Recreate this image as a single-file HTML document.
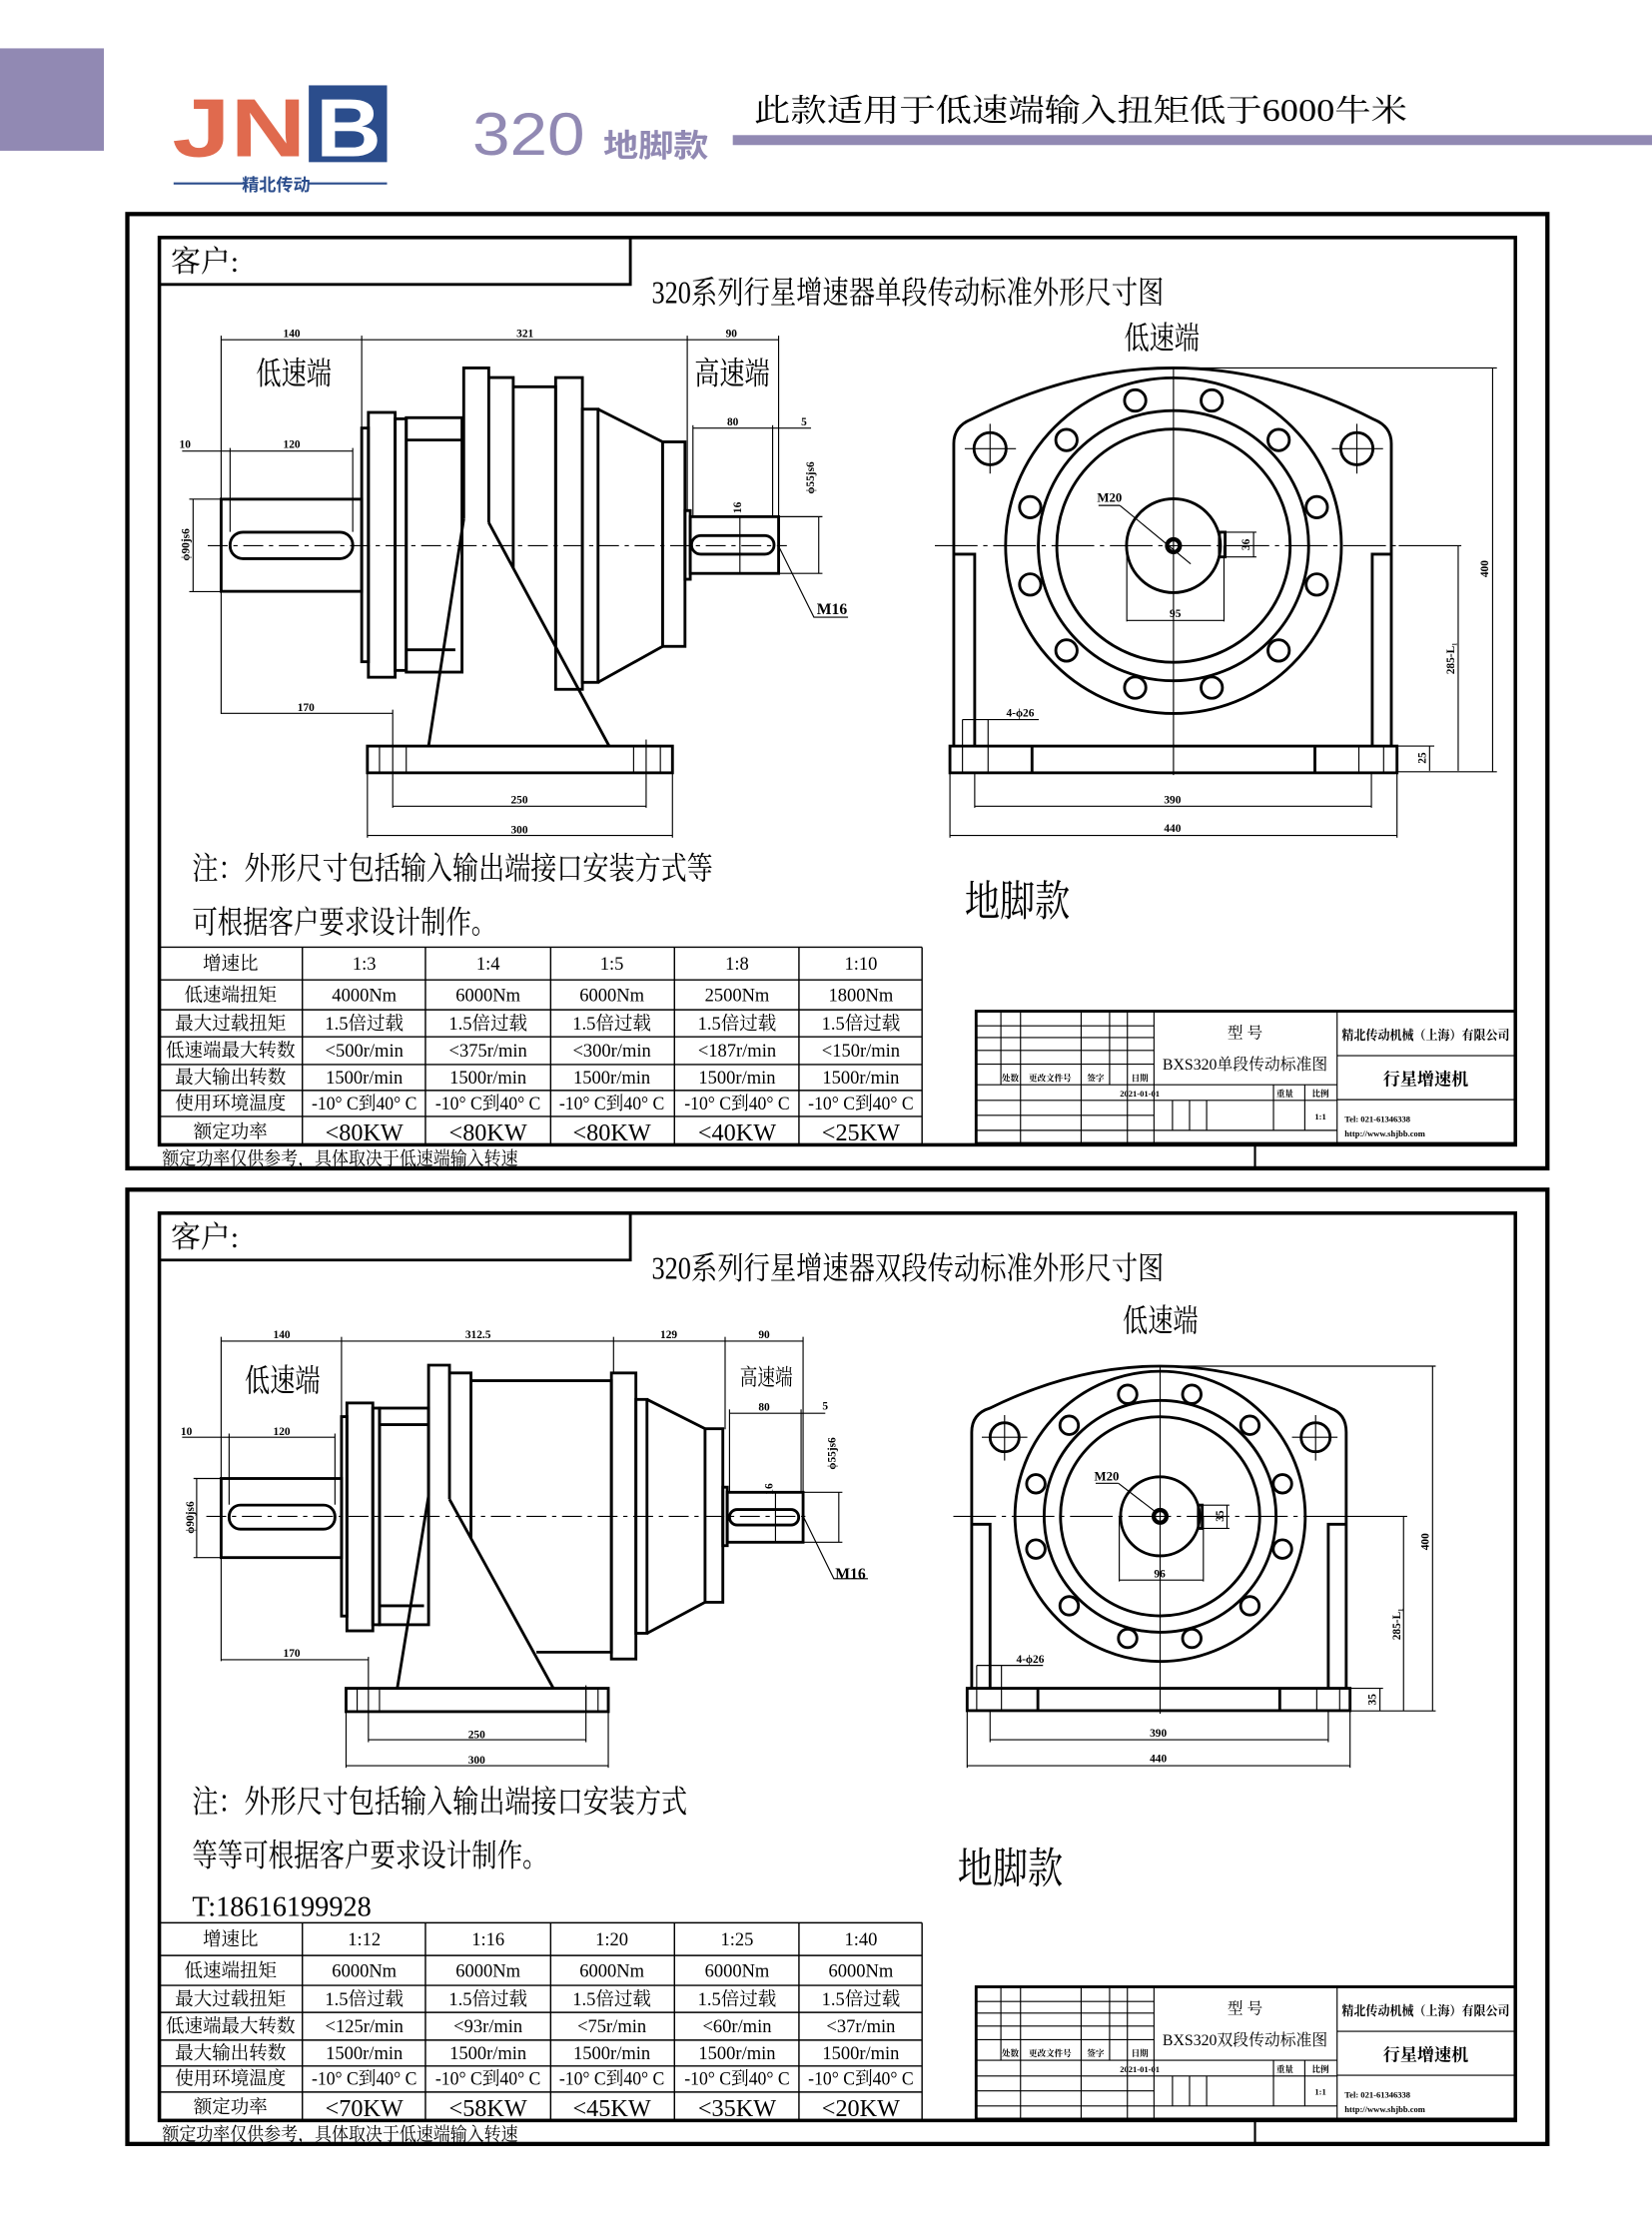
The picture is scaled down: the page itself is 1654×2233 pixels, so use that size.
<!DOCTYPE html>
<html><head><meta charset="utf-8"><style>
html,body{margin:0;padding:0;background:#fff;}
svg{display:block;}
text{font-family:"Liberation Serif","Noto Serif CJK SC","Noto Sans CJK SC",serif;fill:#000;}
.s{font-family:"Liberation Sans","Noto Sans CJK SC",sans-serif;}
.d{font-size:8px;font-weight:bold;}
.t{font-size:13px;}
.b{font-size:17px;}
</style></head><body>
<svg width="1654" height="2233" viewBox="0 0 1161 1568" preserveAspectRatio="none" xmlns="http://www.w3.org/2000/svg">
<rect width="1161" height="1568" fill="#fff"/>
<!-- header -->
<rect x="0" y="34" width="73" height="72" fill="#9189b3"/>
<text x="121" y="110" class="s" style="font-size:58px;font-weight:bold;fill:#e06a4e" textLength="94" lengthAdjust="spacingAndGlyphs">JN</text>
<rect x="217" y="60" width="55" height="54" fill="#2b4d8c"/>
<text x="222" y="110" class="s" style="font-size:58px;font-weight:bold;fill:#fff" textLength="46" lengthAdjust="spacingAndGlyphs">B</text>
<line x1="122" y1="129" x2="172" y2="129" stroke="#2b4d8c" stroke-width="1.5"/>
<line x1="217" y1="129" x2="272" y2="129" stroke="#2b4d8c" stroke-width="1.5"/>
<text x="194" y="134" class="s" text-anchor="middle" style="font-size:12px;font-weight:bold;fill:#2b4d8c">精北传动</text>
<text x="332" y="109" class="s" style="font-size:42px;fill:#9189b3" textLength="79" lengthAdjust="spacingAndGlyphs">320</text>
<text x="424" y="110" class="s" style="font-size:22px;font-weight:bold;fill:#9189b3" textLength="74" lengthAdjust="spacingAndGlyphs">地脚款</text>
<text x="530" y="85" style="font-size:22px" textLength="459" lengthAdjust="spacingAndGlyphs">此款适用于低速端输入扭矩低于6000牛米</text>
<rect x="515" y="95" width="646" height="7" fill="#9189b3"/>

<!-- frames, tables, title blocks -->
<g id="frame">
<rect x="89.5" y="150.5" width="998" height="671" fill="none" stroke="#000" stroke-width="3"/>
<rect x="112" y="167" width="953" height="638" fill="none" stroke="#000" stroke-width="2.5"/>
<line x1="882" y1="805" x2="882" y2="821" stroke="#000" stroke-width="1.5"/>
<polyline points="112,200 443,200 443,167" fill="none" stroke="#000" stroke-width="2"/>
<text x="120" y="191" style="font-size:21px">客户:</text>
<!-- table grid -->
<g stroke="#000" stroke-width="1" fill="none">
<line x1="112" y1="666" x2="648" y2="666"/><line x1="112" y1="689" x2="648" y2="689"/>
<line x1="112" y1="710" x2="648" y2="710"/><line x1="112" y1="729" x2="648" y2="729"/>
<line x1="112" y1="748.5" x2="648" y2="748.5"/><line x1="112" y1="766.7" x2="648" y2="766.7"/>
<line x1="112" y1="785" x2="648" y2="785"/>
<line x1="212.5" y1="666" x2="212.5" y2="805"/><line x1="299" y1="666" x2="299" y2="805"/>
<line x1="387" y1="666" x2="387" y2="805"/><line x1="474" y1="666" x2="474" y2="805"/>
<line x1="561.5" y1="666" x2="561.5" y2="805"/><line x1="648" y1="666" x2="648" y2="805"/>
</g>
<!-- title block -->
<g stroke="#000" fill="none">
<rect x="686" y="711" width="379" height="93" stroke-width="2"/>
<g stroke-width="0.8">
<line x1="703.4" y1="711" x2="703.4" y2="762.7"/><line x1="717.2" y1="711" x2="717.2" y2="804"/>
<line x1="759.8" y1="711" x2="759.8" y2="804"/><line x1="779.8" y1="711" x2="779.8" y2="762.7"/>
<line x1="792.3" y1="711" x2="792.3" y2="804"/><line x1="811" y1="711" x2="811" y2="804"/>
<line x1="939.7" y1="711" x2="939.7" y2="804"/>
<line x1="686" y1="721.3" x2="811" y2="721.3"/><line x1="686" y1="729.5" x2="811" y2="729.5"/>
<line x1="686" y1="738.6" x2="811" y2="738.6"/><line x1="686" y1="748.2" x2="811" y2="748.2"/>
<line x1="686" y1="762.7" x2="939.7" y2="762.7"/><line x1="686" y1="773.7" x2="939.7" y2="773.7"/>
<line x1="686" y1="784.2" x2="811" y2="784.2"/><line x1="686" y1="794.8" x2="939.7" y2="794.8"/>
<line x1="824" y1="773.7" x2="824" y2="794.8"/><line x1="836" y1="773.7" x2="836" y2="794.8"/>
<line x1="848" y1="773.7" x2="848" y2="794.8"/><line x1="895" y1="762.7" x2="895" y2="794.8"/>
<line x1="917" y1="762.7" x2="917" y2="794.8"/>
<line x1="939.7" y1="742.3" x2="1065" y2="742.3"/><line x1="939.7" y1="773.2" x2="1065" y2="773.2"/>
</g></g>
</g>
<use href="#frame" transform="translate(0,686)"/>

<!-- ===== PANEL 1 TEXT ===== -->
<text x="458" y="213" style="font-size:22px" textLength="360" lengthAdjust="spacingAndGlyphs">320系列行星增速器单段传动标准外形尺寸图</text>
<text x="135" y="618" style="font-size:22px" textLength="366" lengthAdjust="spacingAndGlyphs">注：外形尺寸包括输入输出端接口安装方式等</text>
<text x="135" y="656" style="font-size:22px" textLength="214" lengthAdjust="spacingAndGlyphs">可根据客户要求设计制作。</text>
<text x="678" y="644" style="font-size:30px" textLength="74" lengthAdjust="spacingAndGlyphs">地脚款</text>
<text x="114" y="819" style="font-size:13px" textLength="250" lengthAdjust="spacingAndGlyphs">额定功率仅供参考，具体取决于低速端输入转速</text>
<g class="t" text-anchor="middle">
<text x="162" y="682">增速比</text><text x="256" y="682">1:3</text><text x="343" y="682">1:4</text><text x="430" y="682">1:5</text><text x="518" y="682">1:8</text><text x="605" y="682">1:10</text>
<text x="162" y="704">低速端扭矩</text><text x="256" y="704">4000Nm</text><text x="343" y="704">6000Nm</text><text x="430" y="704">6000Nm</text><text x="518" y="704">2500Nm</text><text x="605" y="704">1800Nm</text>
<text x="162" y="724">最大过载扭矩</text><text x="256" y="724">1.5倍过载</text><text x="343" y="724">1.5倍过载</text><text x="430" y="724">1.5倍过载</text><text x="518" y="724">1.5倍过载</text><text x="605" y="724">1.5倍过载</text>
<text x="162" y="743">低速端最大转数</text><text x="256" y="743">&lt;500r/min</text><text x="343" y="743">&lt;375r/min</text><text x="430" y="743">&lt;300r/min</text><text x="518" y="743">&lt;187r/min</text><text x="605" y="743">&lt;150r/min</text>
<text x="162" y="762">最大输出转数</text><text x="256" y="762">1500r/min</text><text x="343" y="762">1500r/min</text><text x="430" y="762">1500r/min</text><text x="518" y="762">1500r/min</text><text x="605" y="762">1500r/min</text>
<text x="162" y="780">使用环境温度</text><text x="256" y="780" textLength="74" lengthAdjust="spacingAndGlyphs">-10° C到40° C</text><text x="343" y="780" textLength="74" lengthAdjust="spacingAndGlyphs">-10° C到40° C</text><text x="430" y="780" textLength="74" lengthAdjust="spacingAndGlyphs">-10° C到40° C</text><text x="518" y="780" textLength="74" lengthAdjust="spacingAndGlyphs">-10° C到40° C</text><text x="605" y="780" textLength="74" lengthAdjust="spacingAndGlyphs">-10° C到40° C</text>
<text x="162" y="800">额定功率</text>
<text x="256" y="802" class="b">&lt;80KW</text><text x="343" y="802" class="b">&lt;80KW</text><text x="430" y="802" class="b">&lt;80KW</text><text x="518" y="802" class="b">&lt;40KW</text><text x="605" y="802" class="b">&lt;25KW</text>
</g>
<g style="font-size:6px;font-weight:bold" text-anchor="middle">
<text x="710" y="760">处数</text><text x="738" y="760">更改文件号</text><text x="770" y="760">签字</text><text x="801" y="760">日期</text>
<text x="801" y="771">2021-01-01</text><text x="903" y="771">重量</text><text x="928" y="771">比例</text><text x="928" y="787">1:1</text>
</g>
<text x="875" y="730" text-anchor="middle" style="font-size:11px">型 号</text>
<text x="875" y="752" text-anchor="middle" style="font-size:11px" textLength="116" lengthAdjust="spacingAndGlyphs">BXS320单段传动标准图</text>
<text x="1002" y="731" text-anchor="middle" style="font-size:9px;font-weight:bold" textLength="118" lengthAdjust="spacingAndGlyphs">精北传动机械（上海）有限公司</text>
<text x="1002" y="763" text-anchor="middle" style="font-size:12px;font-weight:bold">行星增速机</text>
<text x="945" y="789" style="font-size:6px;font-weight:bold">Tel: 021-61346338</text>
<text x="945" y="799" style="font-size:6px;font-weight:bold">http://www.shjbb.com</text>

<!-- ===== PANEL 2 TEXT ===== -->
<text x="458" y="899" style="font-size:22px" textLength="360" lengthAdjust="spacingAndGlyphs">320系列行星增速器双段传动标准外形尺寸图</text>
<text x="135" y="1274" style="font-size:22px" textLength="348" lengthAdjust="spacingAndGlyphs">注：外形尺寸包括输入输出端接口安装方式</text>
<text x="135" y="1312" style="font-size:22px" textLength="250" lengthAdjust="spacingAndGlyphs">等等可根据客户要求设计制作。</text>
<text x="135" y="1347" style="font-size:20px" textLength="126" lengthAdjust="spacingAndGlyphs">T:18616199928</text>
<text x="673" y="1324" style="font-size:30px" textLength="74" lengthAdjust="spacingAndGlyphs">地脚款</text>
<text x="114" y="1505" style="font-size:13px" textLength="250" lengthAdjust="spacingAndGlyphs">额定功率仅供参考，具体取决于低速端输入转速</text>
<g class="t" text-anchor="middle">
<text x="162" y="1368">增速比</text><text x="256" y="1368">1:12</text><text x="343" y="1368">1:16</text><text x="430" y="1368">1:20</text><text x="518" y="1368">1:25</text><text x="605" y="1368">1:40</text>
<text x="162" y="1390">低速端扭矩</text><text x="256" y="1390">6000Nm</text><text x="343" y="1390">6000Nm</text><text x="430" y="1390">6000Nm</text><text x="518" y="1390">6000Nm</text><text x="605" y="1390">6000Nm</text>
<text x="162" y="1410">最大过载扭矩</text><text x="256" y="1410">1.5倍过载</text><text x="343" y="1410">1.5倍过载</text><text x="430" y="1410">1.5倍过载</text><text x="518" y="1410">1.5倍过载</text><text x="605" y="1410">1.5倍过载</text>
<text x="162" y="1429">低速端最大转数</text><text x="256" y="1429">&lt;125r/min</text><text x="343" y="1429">&lt;93r/min</text><text x="430" y="1429">&lt;75r/min</text><text x="518" y="1429">&lt;60r/min</text><text x="605" y="1429">&lt;37r/min</text>
<text x="162" y="1448">最大输出转数</text><text x="256" y="1448">1500r/min</text><text x="343" y="1448">1500r/min</text><text x="430" y="1448">1500r/min</text><text x="518" y="1448">1500r/min</text><text x="605" y="1448">1500r/min</text>
<text x="162" y="1466">使用环境温度</text><text x="256" y="1466" textLength="74" lengthAdjust="spacingAndGlyphs">-10° C到40° C</text><text x="343" y="1466" textLength="74" lengthAdjust="spacingAndGlyphs">-10° C到40° C</text><text x="430" y="1466" textLength="74" lengthAdjust="spacingAndGlyphs">-10° C到40° C</text><text x="518" y="1466" textLength="74" lengthAdjust="spacingAndGlyphs">-10° C到40° C</text><text x="605" y="1466" textLength="74" lengthAdjust="spacingAndGlyphs">-10° C到40° C</text>
<text x="162" y="1486">额定功率</text>
<text x="256" y="1488" class="b">&lt;70KW</text><text x="343" y="1488" class="b">&lt;58KW</text><text x="430" y="1488" class="b">&lt;45KW</text><text x="518" y="1488" class="b">&lt;35KW</text><text x="605" y="1488" class="b">&lt;20KW</text>
</g>
<g style="font-size:6px;font-weight:bold" text-anchor="middle">
<text x="710" y="1446">处数</text><text x="738" y="1446">更改文件号</text><text x="770" y="1446">签字</text><text x="801" y="1446">日期</text>
<text x="801" y="1457">2021-01-01</text><text x="903" y="1457">重量</text><text x="928" y="1457">比例</text><text x="928" y="1473">1:1</text>
</g>
<text x="875" y="1416" text-anchor="middle" style="font-size:11px">型 号</text>
<text x="875" y="1438" text-anchor="middle" style="font-size:11px" textLength="116" lengthAdjust="spacingAndGlyphs">BXS320双段传动标准图</text>
<text x="1002" y="1417" text-anchor="middle" style="font-size:9px;font-weight:bold" textLength="118" lengthAdjust="spacingAndGlyphs">精北传动机械（上海）有限公司</text>
<text x="1002" y="1449" text-anchor="middle" style="font-size:12px;font-weight:bold">行星增速机</text>
<text x="945" y="1475" style="font-size:6px;font-weight:bold">Tel: 021-61346338</text>
<text x="945" y="1485" style="font-size:6px;font-weight:bold">http://www.shjbb.com</text>

<!-- ===== PANEL 1 SIDE VIEW ===== -->
<g stroke="#000" stroke-width="2" fill="none">
<rect x="155.4" y="351" width="98.8" height="64.8"/>
<rect x="161.7" y="374.2" width="86.2" height="18.6" rx="9"/>
<rect x="254.2" y="301" width="4.7" height="164.3"/>
<rect x="258.9" y="290" width="18.8" height="186.2"/>
<rect x="277.7" y="294.5" width="7.8" height="176.9"/>
<rect x="285.5" y="293.7" width="39.2" height="178.9"/>
<line x1="285.5" y1="309.4" x2="324.7" y2="309.4"/><line x1="285.5" y1="456.9" x2="320" y2="456.9"/>
<path d="M325.9,365 V258.7 H343.5 V367.5"/>
<line x1="325.9" y1="365" x2="301.2" y2="524.6"/><line x1="343.5" y1="367.5" x2="428.1" y2="524.6"/>
<path d="M343.5,265.5 H360.7 V399.4"/>
<path d="M360.7,272 H390.5 V454.8"/>
<rect x="390.5" y="265.5" width="18.8" height="219.2"/>
<rect x="409.3" y="287.7" width="11" height="192.1"/>
<line x1="420.3" y1="287.7" x2="465.7" y2="310.7"/><line x1="420.3" y1="479.8" x2="465.7" y2="454.5"/>
<rect x="465.7" y="310.7" width="15.7" height="143.8"/>
<rect x="481.4" y="359" width="3.7" height="48.3"/>
<rect x="485.1" y="363.3" width="62.1" height="39.9"/>
<rect x="486" y="376.6" width="58" height="13.1" rx="6.5"/>
<rect x="258.2" y="524.6" width="214.4" height="18.8"/>
</g>
<g stroke="#000" stroke-width="0.8" fill="none">
<line x1="266.7" y1="524.6" x2="266.7" y2="543.4"/><line x1="285.5" y1="524.6" x2="285.5" y2="543.4"/>
<line x1="445.3" y1="524.6" x2="445.3" y2="543.4"/><line x1="464.1" y1="524.6" x2="464.1" y2="543.4"/>
<line x1="146" y1="383.7" x2="553" y2="383.7" stroke-dasharray="14,4,3,4"/>
<line x1="155.4" y1="238.9" x2="547.2" y2="238.9"/>
<line x1="155.4" y1="236" x2="155.4" y2="351"/><line x1="254.2" y1="236" x2="254.2" y2="301"/>
<line x1="483" y1="236" x2="483" y2="360"/><line x1="547.2" y1="236" x2="547.2" y2="363"/>
<line x1="128" y1="317.2" x2="247.9" y2="317.2"/><line x1="161.7" y1="315" x2="161.7" y2="374"/><line x1="247.9" y1="315" x2="247.9" y2="374"/>
<line x1="135.7" y1="351" x2="135.7" y2="416"/><line x1="133" y1="351" x2="155" y2="351"/><line x1="133" y1="416" x2="155" y2="416"/>
<line x1="487" y1="301" x2="570" y2="301"/><line x1="487" y1="299" x2="487" y2="363"/><line x1="543" y1="299" x2="543" y2="363"/>
<line x1="575.4" y1="363.3" x2="575.4" y2="403.2"/><line x1="547" y1="363.3" x2="578" y2="363.3"/><line x1="547" y1="403.2" x2="578" y2="403.2"/>
<line x1="520" y1="363" x2="520" y2="403"/>
<polyline points="547.2,384 572,434 596,434"/>
<line x1="155.4" y1="416" x2="155.4" y2="502"/><line x1="155.4" y1="501.6" x2="276" y2="501.6"/><line x1="276" y1="499" x2="276" y2="568"/>
<line x1="276" y1="566.9" x2="454.1" y2="566.9"/><line x1="454.1" y1="520" x2="454.1" y2="568"/>
<line x1="258.2" y1="543" x2="258.2" y2="589"/><line x1="472.6" y1="543" x2="472.6" y2="589"/>
<line x1="258.2" y1="587.4" x2="472.6" y2="587.4"/>
</g>
<g class="d" text-anchor="middle">
<text x="205" y="237">140</text><text x="369" y="237">321</text><text x="514" y="237">90</text>
<text x="130" y="315">10</text><text x="205" y="315">120</text><text x="515" y="299">80</text><text x="565" y="299">5</text>
<text x="215" y="500">170</text><text x="365" y="565">250</text><text x="365" y="586">300</text>
<text transform="translate(133,383) rotate(-90)">ϕ90js6</text>
<text transform="translate(572,336) rotate(-90)">ϕ55js6</text>
<text transform="translate(521,357) rotate(-90)">16</text>
</g>
<text x="574" y="432" style="font-size:11px;font-weight:bold">M16</text>
<text x="180" y="270" style="font-size:22px" textLength="53" lengthAdjust="spacingAndGlyphs">低速端</text>
<text x="488" y="270" style="font-size:22px" textLength="53" lengthAdjust="spacingAndGlyphs">高速端</text>

<!-- ===== PANEL 1 END VIEW ===== -->
<text x="790" y="245" style="font-size:22px" textLength="53" lengthAdjust="spacingAndGlyphs">低速端</text>
<g stroke="#000" stroke-width="2" fill="none">
<path d="M670.3,524.6 V311.9 Q670.3,300 682.3,295 Q824.7,222.4 965.7,295 Q977.8,300 977.8,311.9 V524.6"/>
<path d="M670.3,389.7 H685 V524.6 M977.8,389.7 H964.4 V524.6"/>
<circle cx="824.7" cy="383.7" r="118"/><circle cx="824.7" cy="383.7" r="95"/>
<circle cx="824.7" cy="383.7" r="82"/><circle cx="824.7" cy="383.7" r="33"/>
<circle cx="824.7" cy="383.7" r="4.5" stroke-width="3"/>
<rect x="857" y="374.2" width="4" height="17.4"/>
<circle cx="797.8" cy="281.6" r="7.5"/><circle cx="851.6" cy="281.6" r="7.5"/>
<circle cx="749.5" cy="309.4" r="7.5"/><circle cx="898.6" cy="309.4" r="7.5"/>
<circle cx="724" cy="356.6" r="7.5"/><circle cx="925.4" cy="356.6" r="7.5"/>
<circle cx="724" cy="411" r="7.5"/><circle cx="925.4" cy="411" r="7.5"/>
<circle cx="749.5" cy="457.4" r="7.5"/><circle cx="898.6" cy="457.4" r="7.5"/>
<circle cx="797.8" cy="483.5" r="7.5"/><circle cx="851.6" cy="483.5" r="7.5"/>
<circle cx="695.8" cy="315.5" r="11.3"/><circle cx="953.6" cy="315.5" r="11.3"/>
<rect x="667.6" y="524.6" width="314.2" height="18.8"/>
<line x1="725.3" y1="524.6" x2="725.3" y2="543.4"/><line x1="924.1" y1="524.6" x2="924.1" y2="543.4"/>
</g>
<g stroke="#000" stroke-width="0.8" fill="none">
<line x1="678" y1="315.5" x2="714" y2="315.5"/><line x1="695.8" y1="298" x2="695.8" y2="333"/>
<line x1="936" y1="315.5" x2="972" y2="315.5"/><line x1="953.6" y1="298" x2="953.6" y2="333"/>
<line x1="657" y1="383.7" x2="983" y2="383.7" stroke-dasharray="30,4,3,4"/>
<line x1="824.7" y1="258" x2="824.7" y2="545"/>
<line x1="676.4" y1="506" x2="676.4" y2="543.4"/><line x1="694.4" y1="506" x2="694.4" y2="543.4"/>
<line x1="955" y1="524.6" x2="955" y2="543.4"/><line x1="972.4" y1="524.6" x2="972.4" y2="543.4"/>
<line x1="676.4" y1="506" x2="730" y2="506"/>
<line x1="685" y1="543" x2="685" y2="568"/><line x1="963.8" y1="543" x2="963.8" y2="568"/>
<line x1="685" y1="566.9" x2="963.8" y2="566.9"/>
<line x1="667.6" y1="543" x2="667.6" y2="589"/><line x1="981.8" y1="543" x2="981.8" y2="589"/>
<line x1="667.6" y1="587.4" x2="981.8" y2="587.4"/>
<line x1="824.7" y1="258.7" x2="1052" y2="258.7"/><line x1="982" y1="542.7" x2="1052" y2="542.7"/>
<line x1="1049" y1="258.7" x2="1049" y2="542.7"/>
<line x1="983" y1="383.7" x2="1027" y2="383.7"/><line x1="1024.8" y1="383.7" x2="1024.8" y2="542"/>
<line x1="982" y1="524.6" x2="1008" y2="524.6"/><line x1="1004.7" y1="524.6" x2="1004.7" y2="542"/>
<line x1="791.9" y1="383.7" x2="791.9" y2="437"/><line x1="860.2" y1="383.7" x2="860.2" y2="437"/>
<line x1="791.9" y1="436.3" x2="860.2" y2="436.3"/>
<line x1="861" y1="374.2" x2="883" y2="374.2"/><line x1="861" y1="391.6" x2="883" y2="391.6"/><line x1="881" y1="374.2" x2="881" y2="391.6"/>
<line x1="787" y1="355.4" x2="836.8" y2="396.5"/><line x1="772" y1="355.4" x2="787" y2="355.4"/>
</g>
<g class="d" text-anchor="middle">
<text x="824" y="565">390</text><text x="824" y="585">440</text><text x="826" y="434">95</text>
<text x="717" y="504">4-ϕ26</text>
<text transform="translate(1046,400) rotate(-90)">400</text>
<text transform="translate(1022,463) rotate(-90)">285-L₁</text>
<text transform="translate(1002,533) rotate(-90)">25</text>
<text transform="translate(878,383) rotate(-90)">36</text>
</g>
<text x="771" y="353" style="font-size:9px;font-weight:bold">M20</text>

<!-- ===== PANEL 2 SIDE VIEW ===== -->
<g stroke="#000" stroke-width="2" fill="none">
<rect x="155.4" y="1039.6" width="84.6" height="55.6"/>
<rect x="161" y="1058.3" width="74.4" height="16.9" rx="8"/>
<rect x="240" y="996.1" width="3.8" height="140.2"/>
<rect x="243.8" y="986.5" width="18.2" height="160.2"/>
<rect x="262" y="990.1" width="4.7" height="152.3"/>
<rect x="266.7" y="990.1" width="34.5" height="152.3"/>
<line x1="266.7" y1="1001.7" x2="301.2" y2="1001.7"/><line x1="266.7" y1="1129.1" x2="298" y2="1129.1"/>
<path d="M301.2,1051.7 V959.9 H315.9 V1054.2"/>
<line x1="301.2" y1="1051.7" x2="279.2" y2="1187.1"/><line x1="315.9" y1="1054.2" x2="388.9" y2="1187.1"/>
<path d="M315.9,965.4 H331 V1081.7"/>
<path d="M331,970.8 H429.7 V1161.7 H377"/>
<rect x="429.7" y="965.4" width="17.2" height="201.1"/>
<rect x="446.9" y="984" width="7.8" height="164.4"/>
<line x1="454.7" y1="984" x2="495.5" y2="1004.6"/><line x1="454.7" y1="1148.4" x2="495.5" y2="1126.6"/>
<rect x="495.5" y="1004.6" width="12.5" height="122"/>
<rect x="508" y="1045.7" width="3.1" height="41.1"/>
<rect x="511.1" y="1049.3" width="53.3" height="35.1"/>
<rect x="512.7" y="1061.4" width="48.6" height="10.9" rx="5.4"/>
<rect x="243.2" y="1187.1" width="184.3" height="16.4"/>
</g>
<g stroke="#000" stroke-width="0.8" fill="none">
<line x1="251" y1="1187.1" x2="251" y2="1203.5"/><line x1="266.7" y1="1187.1" x2="266.7" y2="1203.5"/>
<line x1="411.8" y1="1187.1" x2="411.8" y2="1203.5"/><line x1="420.3" y1="1187.1" x2="420.3" y2="1203.5"/>
<line x1="145" y1="1066.2" x2="570" y2="1066.2" stroke-dasharray="14,4,3,4"/>
<line x1="155.4" y1="943" x2="564.4" y2="943"/>
<line x1="155.4" y1="940" x2="155.4" y2="1040"/><line x1="240" y1="940" x2="240" y2="996"/>
<line x1="431.2" y1="940" x2="431.2" y2="965"/><line x1="509.6" y1="940" x2="509.6" y2="1005"/>
<line x1="564.4" y1="940" x2="564.4" y2="1049"/>
<line x1="128" y1="1010.6" x2="235.4" y2="1010.6"/><line x1="161" y1="1008" x2="161" y2="1058"/><line x1="235.4" y1="1008" x2="235.4" y2="1058"/>
<line x1="138.2" y1="1039.6" x2="138.2" y2="1095.2"/><line x1="136" y1="1039.6" x2="155" y2="1039.6"/><line x1="136" y1="1095.2" x2="155" y2="1095.2"/>
<line x1="512.7" y1="993.7" x2="580" y2="993.7"/><line x1="512.7" y1="991" x2="512.7" y2="1049"/><line x1="563" y1="991" x2="563" y2="1049"/>
<line x1="589.5" y1="1049.3" x2="589.5" y2="1084.4"/><line x1="564" y1="1049.3" x2="592" y2="1049.3"/><line x1="564" y1="1084.4" x2="592" y2="1084.4"/>
<line x1="545" y1="1049" x2="545" y2="1084"/>
<polyline points="564.4,1066 586,1110 610,1110"/>
<line x1="155.4" y1="1095" x2="155.4" y2="1168"/><line x1="155.4" y1="1167" x2="258.9" y2="1167"/><line x1="258.9" y1="1165" x2="258.9" y2="1225"/>
<line x1="258.9" y1="1223.3" x2="411.8" y2="1223.3"/><line x1="411.8" y1="1185" x2="411.8" y2="1225"/>
<line x1="243.2" y1="1203" x2="243.2" y2="1243"/><line x1="427.5" y1="1203" x2="427.5" y2="1243"/>
<line x1="243.2" y1="1241.5" x2="427.5" y2="1241.5"/>
</g>
<g class="d" text-anchor="middle">
<text x="198" y="941">140</text><text x="336" y="941">312.5</text><text x="470" y="941">129</text><text x="537" y="941">90</text>
<text x="131" y="1009">10</text><text x="198" y="1009">120</text><text x="537" y="992">80</text><text x="580" y="991">5</text>
<text x="205" y="1165">170</text><text x="335" y="1222">250</text><text x="335" y="1240">300</text>
<text transform="translate(136,1067) rotate(-90)">ϕ90js6</text>
<text transform="translate(587,1022) rotate(-90)">ϕ55js6</text>
<text transform="translate(543,1047) rotate(-90)">16</text>
</g>
<text x="587" y="1110" style="font-size:11px;font-weight:bold">M16</text>
<text x="172" y="978" style="font-size:22px" textLength="53" lengthAdjust="spacingAndGlyphs">低速端</text>
<text x="520" y="974" style="font-size:16px" textLength="37" lengthAdjust="spacingAndGlyphs">高速端</text>

<!-- ===== PANEL 2 END VIEW ===== -->
<text x="789" y="936" style="font-size:22px" textLength="53" lengthAdjust="spacingAndGlyphs">低速端</text>
<g stroke="#000" stroke-width="2" fill="none">
<path d="M682.9,1187.1 V1007 Q682.9,994 695.8,990.1 Q815.3,931.1 934.8,990.1 Q946.1,994 946.1,1007 V1187.1"/>
<path d="M682.9,1071.8 H695.8 V1187.1 M946.1,1071.8 H933.5 V1187.1"/>
<circle cx="815.3" cy="1066.2" r="102"/><circle cx="815.3" cy="1066.2" r="81.5"/>
<circle cx="815.3" cy="1066.2" r="70"/><circle cx="815.3" cy="1066.2" r="27.8"/>
<circle cx="815.3" cy="1066.2" r="4.5" stroke-width="3"/>
<rect x="842.2" y="1058.3" width="2.7" height="16.4"/>
<circle cx="792.5" cy="980.4" r="6.5"/><circle cx="837.6" cy="980.4" r="6.5"/>
<circle cx="751.4" cy="1002.2" r="6.5"/><circle cx="878.4" cy="1002.2" r="6.5"/>
<circle cx="728" cy="1043.3" r="6.5"/><circle cx="901.3" cy="1043.3" r="6.5"/>
<circle cx="728" cy="1089.2" r="6.5"/><circle cx="901.3" cy="1089.2" r="6.5"/>
<circle cx="751.4" cy="1129.1" r="6.5"/><circle cx="878.4" cy="1129.1" r="6.5"/>
<circle cx="792.5" cy="1152" r="6.5"/><circle cx="837.6" cy="1152" r="6.5"/>
<circle cx="706" cy="1010.6" r="10.2"/><circle cx="924.6" cy="1010.6" r="10.2"/>
<rect x="679.7" y="1187.1" width="269.1" height="15.7"/>
<line x1="729.4" y1="1187.1" x2="729.4" y2="1202.8"/><line x1="899.4" y1="1187.1" x2="899.4" y2="1202.8"/>
</g>
<g stroke="#000" stroke-width="0.8" fill="none">
<line x1="690" y1="1010.6" x2="722" y2="1010.6"/><line x1="706" y1="995" x2="706" y2="1027"/>
<line x1="908" y1="1010.6" x2="940" y2="1010.6"/><line x1="924.6" y1="995" x2="924.6" y2="1027"/>
<line x1="670" y1="1066.2" x2="946" y2="1066.2" stroke-dasharray="30,4,3,4"/>
<line x1="815.3" y1="960" x2="815.3" y2="1205"/>
<line x1="686.4" y1="1171" x2="686.4" y2="1202.8"/><line x1="703.8" y1="1171" x2="703.8" y2="1202.8"/>
<line x1="925.4" y1="1187.1" x2="925.4" y2="1202.8"/><line x1="941.5" y1="1187.1" x2="941.5" y2="1202.8"/>
<line x1="686.4" y1="1171" x2="733" y2="1171"/>
<line x1="695.8" y1="1203" x2="695.8" y2="1225"/><line x1="933.5" y1="1203" x2="933.5" y2="1225"/>
<line x1="695.8" y1="1223.3" x2="933.5" y2="1223.3"/>
<line x1="679.7" y1="1203" x2="679.7" y2="1243"/><line x1="948.8" y1="1203" x2="948.8" y2="1243"/>
<line x1="679.7" y1="1241.5" x2="948.8" y2="1241.5"/>
<line x1="815.3" y1="960.6" x2="1009" y2="960.6"/><line x1="949" y1="1203" x2="1009" y2="1203"/>
<line x1="1006.8" y1="960.6" x2="1006.8" y2="1203"/>
<line x1="946" y1="1066.2" x2="989" y2="1066.2"/><line x1="986.4" y1="1066.2" x2="986.4" y2="1203"/>
<line x1="949" y1="1187.1" x2="972" y2="1187.1"/><line x1="969.8" y1="1187.1" x2="969.8" y2="1203"/>
<line x1="786.6" y1="1066" x2="786.6" y2="1112"/><line x1="845.7" y1="1066" x2="845.7" y2="1112"/>
<line x1="786.6" y1="1111" x2="845.7" y2="1111"/>
<line x1="845" y1="1058.3" x2="864" y2="1058.3"/><line x1="845" y1="1074.7" x2="864" y2="1074.7"/><line x1="862.3" y1="1058.3" x2="862.3" y2="1074.7"/>
<line x1="786" y1="1043" x2="812" y2="1063"/><line x1="770" y1="1043" x2="786" y2="1043"/>
</g>
<g class="d" text-anchor="middle">
<text x="814" y="1221">390</text><text x="814" y="1239">440</text><text x="815" y="1109">96</text>
<text x="724" y="1169">4-ϕ26</text>
<text transform="translate(1004,1084) rotate(-90)">400</text>
<text transform="translate(984,1142) rotate(-90)">285-L₁</text>
<text transform="translate(967,1195) rotate(-90)">35</text>
<text transform="translate(860,1066) rotate(-90)">35</text>
</g>
<text x="769" y="1041" style="font-size:9px;font-weight:bold">M20</text>
</svg>
</body></html>
